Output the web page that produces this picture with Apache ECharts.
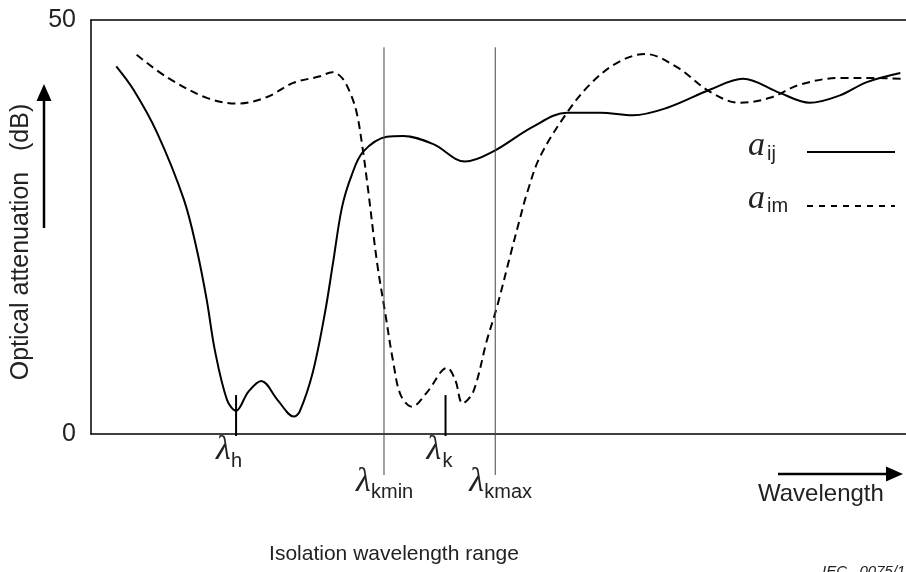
<!DOCTYPE html>
<html>
<head>
<meta charset="utf-8">
<script src="https://cdn.jsdelivr.net/npm/echarts@6/dist/echarts.min.js"></script>
<style>
html,body{margin:0;padding:0;background:#fff;}
#chart{width:906px;height:572px;}
</style>
</head>
<body>
<div id="chart"></div>
<script>
// wavelength in arbitrary units (0..100 across the frame), attenuation in dB
var waveIJ = [3.1, 5.2, 8.1, 11.4, 13.0, 14.2, 15.2, 16.7, 17.8, 19.3, 20.9, 22.9, 24.9, 25.6, 27.2, 28.7, 29.7, 30.8, 32.0, 33.4, 36.3, 38.3, 42.0, 45.9, 49.3, 54.2, 58.4, 62.5, 66.5, 70.7, 76.0, 80.0, 84.5, 88.2, 91.9, 95.2, 99.3];
var attIJ  = [44.4, 41.6, 36.4, 28.3, 22.2, 16.2, 10.1, 4.1, 2.8, 5.1, 6.4, 4.1, 2.1, 2.7, 7.4, 14.6, 20.7, 27.4, 31.3, 34.1, 35.9, 36.0, 35.0, 32.9, 34.1, 37.1, 38.8, 38.8, 38.5, 39.4, 41.6, 42.9, 41.2, 40.0, 40.9, 42.5, 43.6];

var waveIM = [5.6, 9.3, 14.2, 18.0, 21.6, 24.8, 28.1, 29.6, 30.8, 31.8, 32.6, 33.3, 34.0, 35.1, 36.1, 37.1, 38.0, 39.4, 41.2, 43.7, 44.7, 45.6, 46.9, 48.6, 49.8, 51.4, 52.6, 53.5, 55.1, 58.4, 61.2, 64.5, 68.0, 71.9, 76.0, 79.6, 83.3, 87.0, 91.9, 96.0, 99.6];
var attIM  = [45.8, 43.1, 40.6, 39.9, 40.7, 42.4, 43.2, 43.7, 43.0, 41.2, 38.8, 34.7, 29.5, 20.7, 14.6, 8.6, 4.7, 3.3, 5.0, 8.0, 6.5, 3.7, 5.1, 11.4, 15.3, 21.4, 25.9, 29.1, 33.5, 38.8, 42.2, 44.8, 45.9, 44.3, 41.3, 40.0, 40.6, 42.2, 43.0, 43.0, 42.9];

var markerNames = ['h', 'kmin', 'k', 'kmax'];
var markerWave  = [17.8, 35.95, 43.5, 49.6];
var yTickValues = [0, 50];

function pairs(xs, ys){
	var out = [];
	for(var i = 0; i < xs.length; i++) out.push([xs[i], ys[i]]);
	return out;
}

var chart = echarts.init(document.getElementById('chart'));
var FONT = "'Liberation Sans', Arial, sans-serif";
var SERIF = "'Liberation Serif', 'Times New Roman', serif";

chart.setOption({
	animation: false,
	backgroundColor: '#fff',
	grid: {left: 91, top: 20, right: 0, bottom: 138},
	xAxis: [
		{type: 'value', min: 0, max: 100, position: 'bottom',
			axisLine: {show: true, lineStyle: {color: '#000', width: 1.5}},
			axisTick: {show: false}, axisLabel: {show: false}, splitLine: {show: false}},
		{type: 'value', min: 0, max: 100, position: 'top',
			axisLine: {show: true, lineStyle: {color: '#000', width: 1.5}},
			axisTick: {show: false}, axisLabel: {show: false}, splitLine: {show: false}}
	],
	yAxis: {
		type: 'value', min: yTickValues[0], max: yTickValues[1], interval: yTickValues[1] - yTickValues[0],
		axisLine: {show: true, lineStyle: {color: '#000', width: 1.5}},
		axisTick: {show: false}, splitLine: {show: false},
		axisLabel: {color: '#222', fontSize: 25, fontFamily: FONT, margin: 15}
	},
	series: [
		{type: 'line', name: 'aij', data: pairs(waveIJ, attIJ), smooth: 0.35, symbol: 'none',
			lineStyle: {color: '#000', width: 2}},
		{type: 'line', name: 'aim', data: pairs(waveIM, attIM), smooth: 0.35, symbol: 'none',
			lineStyle: {color: '#000', width: 2, type: [8, 5]}}
	]
});

// marker lines and lambda labels, placed through the axes
var layout = {
	h:    {top: 4.7,  below: 2,  color: '#000', width: 2, lx: -20, sx: -5,  ly: 450, sy: 461},
	k:    {top: 4.7,  below: 2,  color: '#000', width: 2, lx: -19, sx: -3,  ly: 450, sy: 461},
	kmin: {top: 46.7, below: 41, color: '#444', width: 1, lx: -28, sx: -13, ly: 482, sy: 492},
	kmax: {top: 46.7, below: 41, color: '#444', width: 1, lx: -26, sx: -11, ly: 482, sy: 492}
};

var g = [];
for(var i = 0; i < markerNames.length; i++){
	var L = layout[markerNames[i]];
	var pTop = chart.convertToPixel({gridIndex: 0}, [markerWave[i], L.top]);
	var pBase = chart.convertToPixel({gridIndex: 0}, [markerWave[i], 0]);
	g.push({type: 'line', shape: {x1: pTop[0], y1: pTop[1], x2: pBase[0], y2: pBase[1] + L.below},
		style: {stroke: L.color, lineWidth: L.width}, z: 10});
	g.push({type: 'text', x: pBase[0] + L.lx, y: L.ly,
		style: {text: 'λ', font: 'italic 34px ' + SERIF, fill: '#222', textAlign: 'left', textVerticalAlign: 'middle'}});
	g.push({type: 'text', x: pBase[0] + L.sx, y: L.sy,
		style: {text: markerNames[i], font: '20px ' + FONT, fill: '#222', textAlign: 'left', textVerticalAlign: 'middle'}});
}

// legend
g.push({type: 'text', x: 748, y: 146, style: {text: 'a', font: 'italic 34px ' + SERIF, fill: '#222', textVerticalAlign: 'middle'}});
g.push({type: 'text', x: 767, y: 154, style: {text: 'ij', font: '20px ' + FONT, fill: '#222', textVerticalAlign: 'middle'}});
g.push({type: 'line', shape: {x1: 807, y1: 152, x2: 895, y2: 152}, style: {stroke: '#000', lineWidth: 2}});
g.push({type: 'text', x: 748, y: 199, style: {text: 'a', font: 'italic 34px ' + SERIF, fill: '#222', textVerticalAlign: 'middle'}});
g.push({type: 'text', x: 767, y: 206, style: {text: 'im', font: '20px ' + FONT, fill: '#222', textVerticalAlign: 'middle'}});
g.push({type: 'line', shape: {x1: 807, y1: 206, x2: 895, y2: 206}, style: {stroke: '#000', lineWidth: 2, lineDash: [6, 6]}});

// y axis title and arrow
g.push({type: 'text', x: 21, y: 242, rotation: Math.PI / 2,
	style: {text: 'Optical attenuation   (dB)', font: '25px ' + FONT, fill: '#222', textAlign: 'center', textVerticalAlign: 'middle'}});
g.push({type: 'line', shape: {x1: 44, y1: 228, x2: 44, y2: 98}, style: {stroke: '#000', lineWidth: 2.5}});
g.push({type: 'polygon', shape: {points: [[44, 84], [36.5, 101], [51.5, 101]]}, style: {fill: '#000'}});

// wavelength arrow and titles
g.push({type: 'line', shape: {x1: 778, y1: 474, x2: 889, y2: 474}, style: {stroke: '#000', lineWidth: 2.5}});
g.push({type: 'polygon', shape: {points: [[903, 474], [886, 466.5], [886, 481.5]]}, style: {fill: '#000'}});
g.push({type: 'text', x: 758, y: 494, style: {text: 'Wavelength', font: '24px ' + FONT, fill: '#222', textVerticalAlign: 'middle'}});
g.push({type: 'text', x: 394, y: 554, style: {text: 'Isolation wavelength range', font: '21px ' + FONT, fill: '#222', textAlign: 'center', textVerticalAlign: 'middle'}});
g.push({type: 'text', x: 822, y: 572, style: {text: 'IEC   0075/14', font: 'italic 15px ' + FONT, fill: '#222', textVerticalAlign: 'middle'}});

chart.setOption({graphic: g});
</script>
</body>
</html>
